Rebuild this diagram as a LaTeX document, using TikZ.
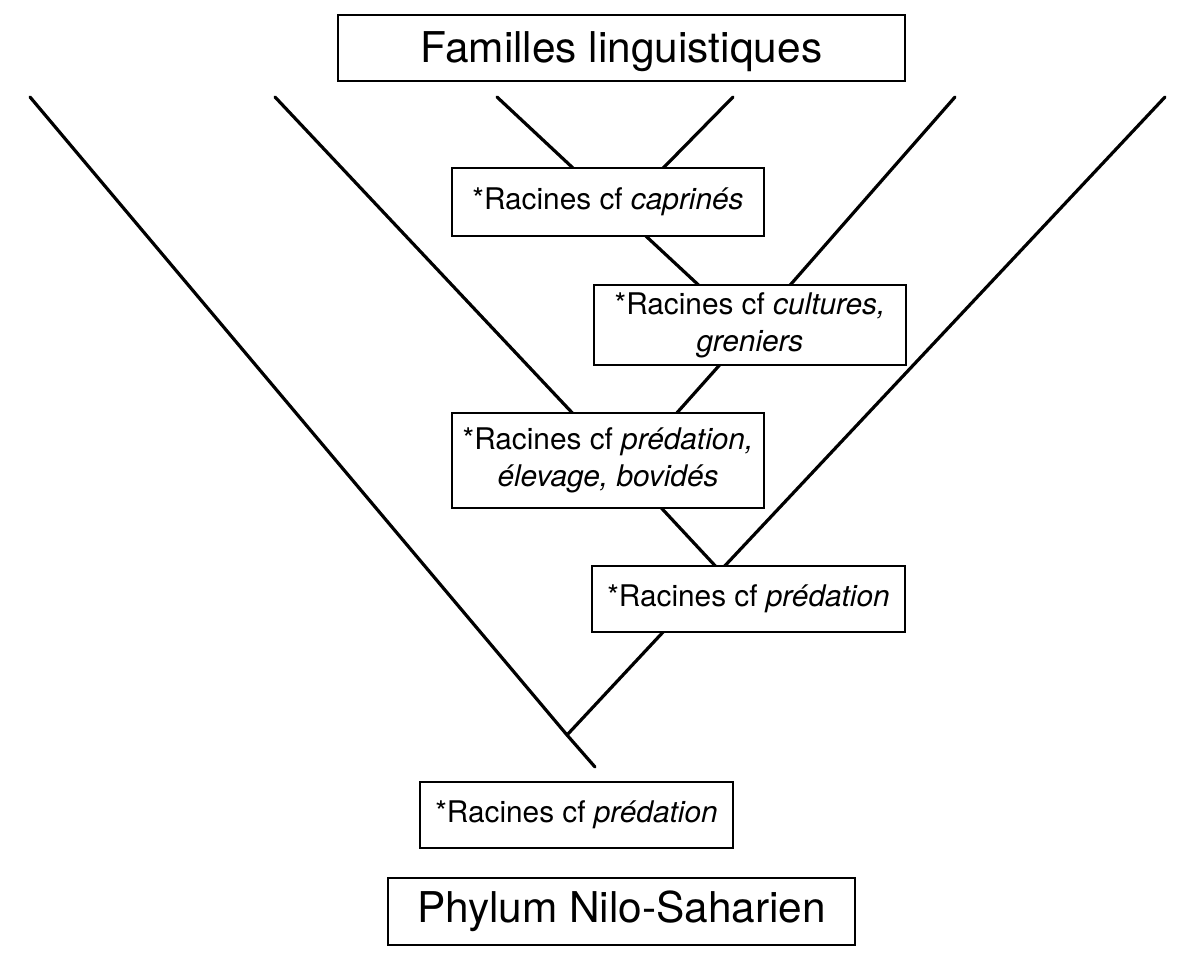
\documentclass[tikz,border=0pt]{standalone}
\usepackage{fontspec}
\setmainfont{TeX Gyre Heros}
\usepackage{tikz}

\begin{document}
\begin{tikzpicture}[
    x=0.5pt, y=-0.5pt,
    every node/.style={align=center},
    box/.style={draw, line width=0.9pt, fill=white, inner sep=0pt, font=\fontsize{14.9}{18.5}\selectfont},
    titlebox/.style={box, font=\fontsize{21.2}{25}\selectfont},
    branch/.style={line width=1.6pt, line cap=round}
]
\useasboundingbox (0,0) rectangle (1181,968);

% leaves and junctions of the tree
\coordinate (l1) at (30,97);
\coordinate (l2) at (275,97);
\coordinate (l3) at (497,97);
\coordinate (l4) at (733,97);
\coordinate (l5) at (955,97);
\coordinate (l6) at (1165,97);
\coordinate (j1) at (620,212);
\coordinate (j2) at (749,332);
\coordinate (j3) at (626,470);
\coordinate (j4) at (720,571);
\coordinate (j5) at (567,735);
\coordinate (base) at (595,767);

\draw[branch] (l1) -- (j5) -- (base);
\draw[branch] (l2) -- (j3) -- (j4);
\draw[branch] (l3) -- (j1) -- (j2);
\draw[branch] (l4) -- (j1);
\draw[branch] (l5) -- (j2) -- (j3);
\draw[branch] (l6) -- (j4) -- (j5);

\node[titlebox, minimum width=283.5pt, minimum height=33pt, text depth=1pt] (familles) at (621.5,48) {Familles linguistiques};
\node[box, minimum width=156pt, minimum height=34pt] (caprines) at (608,202) {*Racines cf \textit{caprinés}};
\node[box, minimum width=156pt, minimum height=40pt] (cultures) at (750,325) {*Racines cf \textit{cultures,}\\\textit{greniers}};
\node[box, minimum width=156pt, minimum height=47.5pt] (elevage) at (608,460.5) {*Racines cf \textit{prédation,}\\\textit{élevage, bovidés}};
\node[box, minimum width=156.5pt, minimum height=33pt] (predation) at (748.5,599) {*Racines cf \textit{prédation}};
\node[box, minimum width=156.5pt, minimum height=33pt] (racine) at (576.5,815) {*Racines cf \textit{prédation}};
\node[titlebox, minimum width=233.5pt, minimum height=33.5pt] (phylum) at (621.5,911.5) {Phylum Nilo-Saharien};
\end{tikzpicture}
\end{document}
